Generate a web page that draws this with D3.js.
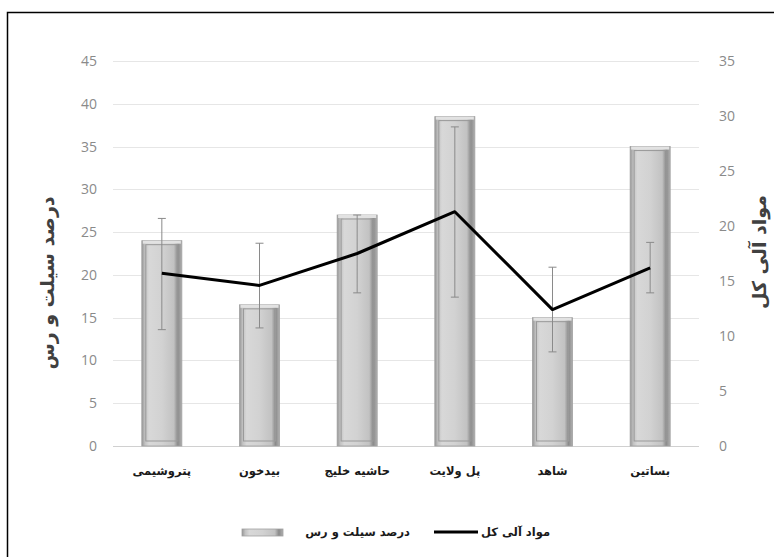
<!DOCTYPE html>
<html>
<head>
<meta charset="utf-8">
<script src="https://cdn.jsdelivr.net/npm/d3@7/dist/d3.min.js"></script>
<style>
  body { margin: 0; background: #fff; }
  svg { display: block; }
</style>
</head>
<body>
<svg id="chart" width="774" height="557"></svg>
<script>
// ---- data ----
const categories = ["پتروشیمی", "بیدخون", "حاشیه خلیج", "پل ولایت", "شاهد", "بساتین"];
const siltClay = [24, 16.5, 27, 38.5, 15, 35];          // left axis (bars)
const errLow   = [13.6, 13.8, 17.9, 17.4, 11, 17.9];     // error bar bottom (left axis)
const errHigh  = [26.6, 23.7, 27, 37.3, 20.9, 23.8];     // error bar top (left axis)
const organic  = [15.7, 14.6, 17.5, 21.3, 12.4, 16.2];   // right axis (line)
const leftTicks  = [0, 5, 10, 15, 20, 25, 30, 35, 40, 45];
const rightTicks = [0, 5, 10, 15, 20, 25, 30, 35];
const leftTitle = "درصد سیلت و رس";
const rightTitle = "مواد آلی کل";

const svg = d3.select("#chart");
const plot = { left: 113, right: 699, top: 61, bottom: 446 };

// border
svg.append("rect").attr("x", 7.5).attr("y", 12.5).attr("width", 780).attr("height", 560)
  .attr("fill", "none").attr("stroke", "#000").attr("stroke-width", 1.5);

const x = d3.scaleBand().domain(categories).range([plot.left, plot.right]).paddingInner(0.59).paddingOuter(0.295);
const yL = d3.scaleLinear().domain([0, 45]).range([plot.bottom, plot.top]);
const yR = d3.scaleLinear().domain([0, 35]).range([plot.bottom, plot.top]);

// gradient for bars
const defs = svg.append("defs");
const g1 = defs.append("linearGradient").attr("id", "barGrad").attr("x1", "0").attr("x2", "1").attr("y1", "0").attr("y2", "0");
[[0, "#969696"], [0.08, "#c2c2c2"], [0.18, "#d8d8d8"], [0.5, "#d2d2d2"], [0.8, "#c2c2c2"], [0.9, "#8a8a8a"], [1, "#b0b0b0"]]
  .forEach(([o, c]) => g1.append("stop").attr("offset", o).attr("stop-color", c));

// gridlines
svg.append("g").selectAll("line").data(leftTicks).join("line")
  .attr("x1", plot.left).attr("x2", plot.right)
  .attr("y1", d => Math.round(yL(d)) + 0.5).attr("y2", d => Math.round(yL(d)) + 0.5)
  .attr("stroke", d => d === 0 ? "#d0d0d0" : "#e6e6e6").attr("stroke-width", 1);

// left axis labels
const axL = svg.append("g").attr("transform", `translate(${plot.left - 16},0)`)
  .call(d3.axisLeft(yL).tickValues(leftTicks).tickSize(0).tickPadding(0));
axL.select(".domain").remove();
axL.selectAll("text").attr("fill", "#8a8a8a").style("font-family", "Open Sans, sans-serif").style("font-size", "14px");

// right axis labels
const axR = svg.append("g").attr("transform", `translate(${plot.right + 20},0)`)
  .call(d3.axisRight(yR).tickValues(rightTicks).tickSize(0).tickPadding(0));
axR.select(".domain").remove();
axR.selectAll("text").attr("fill", "#8a8a8a").style("font-family", "Open Sans, sans-serif").style("font-size", "14px");

// bars
const bars = svg.append("g");
bars.selectAll("rect.outer").data(siltClay).join("rect").attr("class", "outer")
  .attr("x", (d, i) => x(categories[i])).attr("width", x.bandwidth())
  .attr("y", d => yL(d)).attr("height", d => yL(0) - yL(d))
  .attr("fill", "url(#barGrad)").attr("stroke", "#a0a0a0").attr("stroke-width", 0.8);
bars.selectAll("rect.inner").data(siltClay).join("rect").attr("class", "inner")
  .attr("x", (d, i) => x(categories[i]) + 4).attr("width", x.bandwidth() - 8)
  .attr("y", d => yL(d) + 4).attr("height", d => yL(0) - yL(d) - 9)
  .attr("fill", "none").attr("stroke", "#999").attr("stroke-width", 1);
bars.selectAll("rect.top").data(siltClay).join("rect").attr("class", "top")
  .attr("x", (d, i) => x(categories[i]) + 1).attr("width", x.bandwidth() - 2)
  .attr("y", d => yL(d)).attr("height", 3)
  .attr("fill", "#e2e2e2");

// error bars
const eb = svg.append("g").attr("stroke", "#8a8a8a").attr("stroke-width", 1);
categories.forEach((c, i) => {
  const cx = x(c) + x.bandwidth() / 2;
  eb.append("line").attr("x1", cx).attr("x2", cx).attr("y1", yL(errLow[i])).attr("y2", yL(errHigh[i]));
  eb.append("line").attr("x1", cx - 4).attr("x2", cx + 4).attr("y1", yL(errLow[i])).attr("y2", yL(errLow[i]));
  eb.append("line").attr("x1", cx - 4).attr("x2", cx + 4).attr("y1", yL(errHigh[i])).attr("y2", yL(errHigh[i]));
});

// line
const line = d3.line().x((d, i) => x(categories[i]) + x.bandwidth() / 2).y(d => yR(d));
svg.append("path").datum(organic).attr("d", line)
  .attr("fill", "none").attr("stroke", "#000").attr("stroke-width", 3).attr("stroke-linejoin", "round");

// category labels
svg.append("g").selectAll("text").data(categories).join("text")
  .attr("x", d => x(d) + x.bandwidth() / 2).attr("y", 475)
  .attr("text-anchor", "middle")
  .style("font-family", "DejaVu Sans, sans-serif").style("font-weight", "bold").style("font-size", "11.5px")
  .attr("fill", "#1a1a1a").text(d => d);

// axis titles
svg.append("text").attr("transform", "translate(54,283) rotate(-90)")
  .attr("text-anchor", "middle")
  .style("font-family", "DejaVu Sans, sans-serif").style("font-weight", "bold").style("font-size", "19px")
  .attr("fill", "#404040").text(leftTitle);
svg.append("text").attr("transform", "translate(766,252) rotate(-90)")
  .attr("text-anchor", "middle")
  .style("font-family", "DejaVu Sans, sans-serif").style("font-weight", "bold").style("font-size", "19px")
  .attr("fill", "#404040").text(rightTitle);

// legend
const lg = svg.append("g");
lg.append("rect").attr("x", 242).attr("y", 529).attr("width", 41).attr("height", 7)
  .attr("fill", "url(#barGrad)").attr("stroke", "#a0a0a0").attr("stroke-width", 0.8);
lg.append("text").attr("x", 410).attr("y", 536).attr("text-anchor", "end")
  .style("font-family", "DejaVu Sans, sans-serif").style("font-weight", "bold").style("font-size", "11.5px")
  .attr("fill", "#1a1a1a").text(leftTitle);
lg.append("line").attr("x1", 434).attr("x2", 478).attr("y1", 532).attr("y2", 532)
  .attr("stroke", "#000").attr("stroke-width", 3);
lg.append("text").attr("x", 550).attr("y", 536).attr("text-anchor", "end")
  .style("font-family", "DejaVu Sans, sans-serif").style("font-weight", "bold").style("font-size", "11.5px")
  .attr("fill", "#1a1a1a").text(rightTitle);
</script>
</body>
</html>
